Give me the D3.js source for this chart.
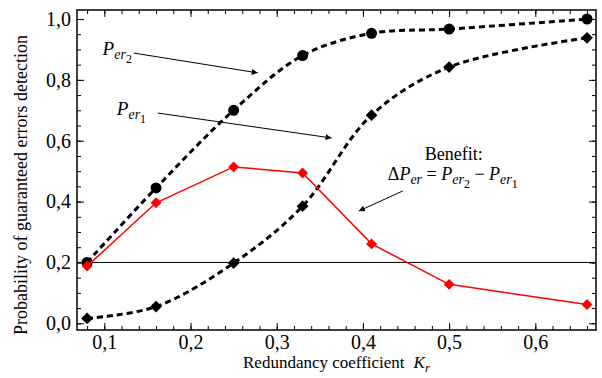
<!DOCTYPE html>
<html lang="en">
<head>
    <meta charset="UTF-8">
    <title>Probability of guaranteed errors detection</title>
    <script src="https://cdn.jsdelivr.net/npm/d3@7"></script>
    <style>
        body { margin: 0; background: #fff; }
        text { font-family: "Liberation Serif", "Times New Roman", serif; fill: #000; }
    </style>
</head>
<body>
    <script>
        //data
        const kr = [0.08, 0.16, 0.25, 0.33, 0.41, 0.5, 0.66];
        const per2 = [0.20, 0.445, 0.70, 0.88, 0.953, 0.967, 1.0];
        const per1 = [0.016, 0.055, 0.198, 0.385, 0.684, 0.842, 0.938];
        const benefit = [0.188, 0.396, 0.514, 0.494, 0.261, 0.128, 0.062];

        const xTicks = [0.1, 0.2, 0.3, 0.4, 0.5, 0.6];
        const yTicks = [0.0, 0.2, 0.4, 0.6, 0.8, 1.0];
        const refLine = 0.2;

        let width = 602, height = 378;
        let pLeft = 77, pRight = 596, pTop = 10, pBottom = 330;

        let svg = d3.select('body')
            .append('svg')
            .attr('width', width)
            .attr('height', height);

        let x = d3.scaleLinear().domain([0.0683, 0.6704]).range([pLeft, pRight]);
        let y = d3.scaleLinear().domain([-0.022, 1.0296]).range([pBottom, pTop]);

        const comma = d => d3.format('.1f')(d).replace('.', ',');

        //arrow head
        svg.append('defs').append('marker')
            .attr('id', 'head')
            .attr('viewBox', '0 0 10 10')
            .attr('refX', 10).attr('refY', 5)
            .attr('markerWidth', 9).attr('markerHeight', 6)
            .attr('markerUnits', 'userSpaceOnUse')
            .attr('orient', 'auto')
            .append('path').attr('d', 'M0,0 L10,5 L0,10 z').attr('fill', '#000');

        //axes, ticks inside on all four sides
        let minorX = d3.range(0.08, 0.67, 0.02);
        let minorY = d3.range(0, 1.01, 0.05);

        svg.append('g').attr('transform', `translate(0,${pBottom})`)
            .call(d3.axisBottom(x).tickValues(xTicks).tickSize(-7).tickPadding(5).tickFormat(comma));
        svg.append('g').attr('transform', `translate(0,${pBottom})`)
            .call(d3.axisBottom(x).tickValues(minorX).tickSize(-4).tickFormat(''));
        svg.append('g').attr('transform', `translate(0,${pTop})`)
            .call(d3.axisTop(x).tickValues(xTicks).tickSize(-7).tickFormat(''));
        svg.append('g').attr('transform', `translate(0,${pTop})`)
            .call(d3.axisTop(x).tickValues(minorX).tickSize(-4).tickFormat(''));

        svg.append('g').attr('transform', `translate(${pLeft},0)`)
            .call(d3.axisLeft(y).tickValues(yTicks).tickSize(-7).tickPadding(6).tickFormat(comma));
        svg.append('g').attr('transform', `translate(${pLeft},0)`)
            .call(d3.axisLeft(y).tickValues(minorY).tickSize(-4).tickFormat(''));
        svg.append('g').attr('transform', `translate(${pRight},0)`)
            .call(d3.axisRight(y).tickValues(yTicks).tickSize(-7).tickFormat(''));
        svg.append('g').attr('transform', `translate(${pRight},0)`)
            .call(d3.axisRight(y).tickValues(minorY).tickSize(-4).tickFormat(''));

        svg.selectAll('.domain').remove();
        svg.selectAll('.tick line').attr('stroke', '#000').attr('stroke-width', 1);
        svg.selectAll('.tick text')
            .style('font-family', '"Liberation Serif", "Times New Roman", serif')
            .style('font-size', '20px')
            .attr('fill', '#000');

        svg.append('rect')
            .attr('x', pLeft).attr('y', pTop)
            .attr('width', pRight - pLeft).attr('height', pBottom - pTop)
            .attr('fill', 'none').attr('stroke', '#000').attr('stroke-width', 1.5);

        //axis titles
        svg.append('text')
            .attr('transform', `translate(27,${(pTop + pBottom) / 2 + 15}) rotate(-90)`)
            .attr('text-anchor', 'middle')
            .style('font-size', '18px')
            .text('Probability of guaranteed errors detection');

        let xt = svg.append('text')
            .attr('x', (pLeft + pRight) / 2)
            .attr('y', 368)
            .attr('text-anchor', 'middle')
            .style('font-size', '17px');
        xt.append('tspan').text('Redundancy coefficient');
        xt.append('tspan').style('font-style', 'italic').attr('dx', 9).text('K');
        xt.append('tspan').style('font-style', 'italic').style('font-size', '13px').attr('dy', 4).text('r');

        //reference line at 0.2
        svg.append('line')
            .attr('x1', pLeft).attr('x2', pRight)
            .attr('y1', y(refLine)).attr('y2', y(refLine))
            .attr('stroke', '#000').attr('stroke-width', 1);

        //dashed smooth curves
        let idx = d3.range(kr.length);
        let smooth = vals => d3.line()
            .x(i => x(kr[i]))
            .y(i => y(vals[i]))
            .curve(d3.curveCatmullRom.alpha(0.5));

        [per2, per1].forEach(vals => {
            svg.append('path')
                .attr('d', smooth(vals)(idx))
                .attr('fill', 'none')
                .attr('stroke', '#000')
                .attr('stroke-width', 3)
                .attr('stroke-dasharray', '6,4');
        });

        //markers
        svg.selectAll('.c2').data(idx).enter().append('circle')
            .attr('cx', i => x(kr[i])).attr('cy', i => y(per2[i]))
            .attr('r', 5.5).attr('fill', '#000');

        let diamond = d3.symbol().type(d3.symbolSquare);
        svg.selectAll('.d1').data(idx).enter().append('path')
            .attr('d', diamond.size(70)())
            .attr('transform', i => `translate(${x(kr[i])},${y(per1[i])}) rotate(45)`)
            .attr('fill', '#000');

        //benefit line
        svg.append('path')
            .attr('d', d3.line().x(i => x(kr[i])).y(i => y(benefit[i]))(idx))
            .attr('fill', 'none')
            .attr('stroke', '#ff0000')
            .attr('stroke-width', 1.5);

        svg.selectAll('.db').data(idx).enter().append('path')
            .attr('d', diamond.size(60)())
            .attr('transform', i => `translate(${x(kr[i])},${y(benefit[i])}) rotate(45)`)
            .attr('fill', '#ff0000');

        //annotation arrows, in data units
        const arrows = [
            [0.1342, 0.888, 0.278, 0.823],
            [0.162, 0.691, 0.3637, 0.609],
            [0.4463, 0.435, 0.3952, 0.369]
        ];
        svg.selectAll('.arr').data(arrows).enter().append('line')
            .attr('x1', d => x(d[0])).attr('y1', d => y(d[1]))
            .attr('x2', d => x(d[2])).attr('y2', d => y(d[3]))
            .attr('stroke', '#000').attr('stroke-width', 1)
            .attr('marker-end', 'url(#head)');

        //label P with subscripts
        function perLabel(t, sub) {
            t.append('tspan').style('font-style', 'italic').style('font-size', '19px').text('P');
            t.append('tspan').style('font-style', 'italic').style('font-size', '14px').attr('dy', 4).text('er');
            if (sub) t.append('tspan').style('font-size', '12px').attr('dy', 4).text(sub);
        }

        let l2 = svg.append('text').attr('x', x(0.098)).attr('y', y(0.882));
        perLabel(l2, '2');
        let l1 = svg.append('text').attr('x', x(0.1145)).attr('y', y(0.684));
        perLabel(l1, '1');

        svg.append('text')
            .attr('x', x(0.5055)).attr('y', y(0.537))
            .attr('text-anchor', 'middle')
            .style('font-size', '18px')
            .text('Benefit:');

        let f = svg.append('text').attr('x', x(0.4289)).attr('y', y(0.471)).style('font-size', '18px');
        f.append('tspan').text('Δ');
        f.append('tspan').style('font-style', 'italic').text('P');
        f.append('tspan').style('font-style', 'italic').style('font-size', '14px').attr('dy', 4).text('er');
        f.append('tspan').attr('dy', -4).text(' = ');
        f.append('tspan').style('font-style', 'italic').text('P');
        f.append('tspan').style('font-style', 'italic').style('font-size', '14px').attr('dy', 4).text('er');
        f.append('tspan').style('font-size', '12px').attr('dy', 4).text('2');
        f.append('tspan').attr('dy', -8).text(' − ');
        f.append('tspan').style('font-style', 'italic').text('P');
        f.append('tspan').style('font-style', 'italic').style('font-size', '14px').attr('dy', 4).text('er');
        f.append('tspan').style('font-size', '12px').attr('dy', 4).text('1');
    </script>
</body>
</html>
